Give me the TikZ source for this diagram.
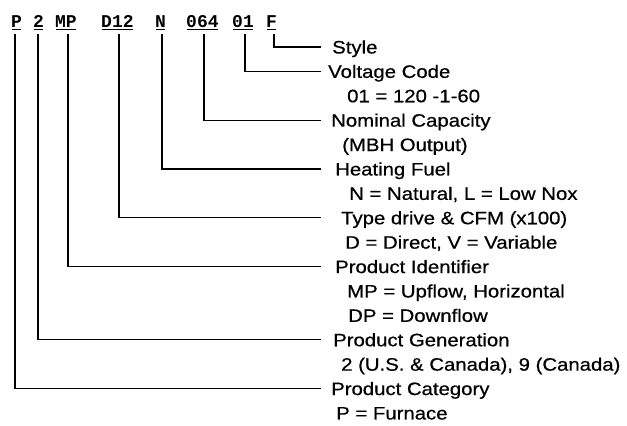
\documentclass[tikz,border=0pt]{standalone}
\usepackage{fontspec}
\setmainfont[FakeStretch=1.13,FakeBold=0.6]{Liberation Sans}
\newfontfamily\codefont{Liberation Mono}
\begin{document}
\begin{tikzpicture}[x=1pt,y=-1pt,
  lbl/.style={anchor=west,inner sep=0pt,text height=12.9pt,text depth=0pt,font=\fontsize{18}{20}\selectfont},
  code/.style={anchor=base west,inner sep=0pt,font=\codefont\bfseries\fontsize{18}{20}\selectfont},
  conn/.style={line width=1.3pt},
  uline/.style={line width=1.2pt}]
\useasboundingbox (0,0) rectangle (627,426);
% code letters
\node[code] (cP)  at (11,27)  {P};
\node[code] (c2)  at (33,27)  {2};
\node[code] (cMP) at (55,27)  {MP};
\node[code] (cD)  at (101,27) {D12};
\node[code] (cN)  at (155,27) {N};
\node[code] (cC)  at (186,27) {064};
\node[code] (cV)  at (232,27) {01};
\node[code] (cF)  at (266,27) {F};
\foreach \n in {cP,c2,cMP,cD,cN,cC,cV,cF}
  \draw[uline] ([xshift=1pt,yshift=-2.5pt]\n.base west) -- ([xshift=-1pt,yshift=-2.5pt]\n.base east);
% line tops and common end column
\coordinate (tP) at (15,34);
\coordinate (t2) at (38,34);
\coordinate (tMP) at (68,34);
\coordinate (tD) at (119,34);
\coordinate (tN) at (162,34);
\coordinate (tC) at (204,34);
\coordinate (tV) at (245,34);
\coordinate (tF) at (274,34);
\coordinate (endx) at (321,0);
% labels
\node[lbl] (lStyle) at (332,47.0)  {Style};
\node[lbl] (lVolt)  at (328,71.4)  {Voltage Code};
\node[lbl] (sVolt)  at (347,95.8)  {01 = 120 -1-60};
\node[lbl] (lCap)   at (331,120.2) {Nominal Capacity};
\node[lbl] (sCap)   at (342,144.6) {(MBH Output)};
\node[lbl] (lFuel)  at (335,169.0) {Heating Fuel};
\node[lbl] (sFuel)  at (349,193.4) {N = Natural, L = Low Nox};
\node[lbl] (lDrive) at (341,217.8) {Type drive \& CFM (x100)};
\node[lbl] (sDrive) at (345,242.2) {D = Direct, V = Variable};
\node[lbl] (lId)    at (335,266.6) {Product Identifier};
\node[lbl] (sId1)   at (347,291.0) {MP = Upflow, Horizontal};
\node[lbl] (sId2)   at (348,315.4) {DP = Downflow};
\node[lbl] (lGen)   at (333,339.8) {Product Generation};
\node[lbl] (sGen)   at (341,364.2) {2 (U.S. \& Canada), 9 (Canada)};
\node[lbl] (lCat)   at (331,388.6) {Product Category};
\node[lbl] (sCat)   at (336,413.0) {P = Furnace};
% connectors
\draw[conn] (tF)  |- (lStyle.west -| endx);
\draw[conn] (tV)  |- (lVolt.west -| endx);
\draw[conn] (tC)  |- (lCap.west -| endx);
\draw[conn] (tN)  |- (lFuel.west -| endx);
\draw[conn] (tD)  |- (lDrive.west -| endx);
\draw[conn] (tMP) |- (lId.west -| endx);
\draw[conn] (t2)  |- (lGen.west -| endx);
\draw[conn] (tP)  |- (lCat.west -| endx);
\end{tikzpicture}
\end{document}
